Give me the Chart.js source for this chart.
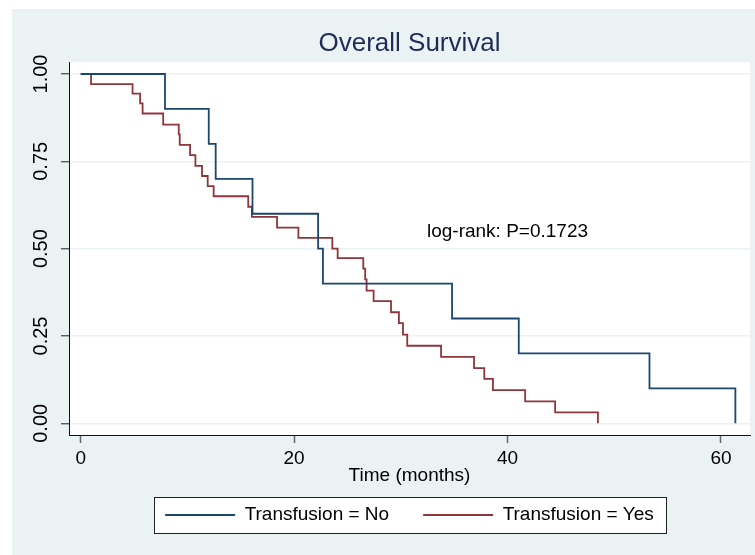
<!DOCTYPE html>
<html>
<head>
<meta charset="utf-8">
<script src="https://cdn.jsdelivr.net/npm/chart.js@4/dist/chart.umd.min.js"></script>
<style>
  html, body { margin: 0; padding: 0; background: #ffffff; }
  #wrap { width: 755px; height: 555px; }
</style>
</head>
<body>
<div id="wrap"><canvas id="c" width="755" height="555"></canvas></div>
<script>
// ---- data ----
const blueTimes = [0, 7.9, 12.0, 12.65, 16.1, 22.25, 22.7, 34.8, 41.05, 53.3, 61.35];
const blueSurv  = [1, 0.9, 0.8, 0.7, 0.6, 0.5, 0.4, 0.3, 0.2, 0.1, 0];

const redTimes = [0, 0.97, 4.86, 5.57, 5.8, 7.73, 9.19, 9.28, 10.25, 10.75,
                  11.37, 11.9, 12.46, 15.7, 16.04, 18.4, 20.4, 23.58, 24.08, 26.48,
                  26.66, 26.79, 27.45, 29.08, 29.82, 30.2, 30.6, 33.77, 36.86, 37.82,
                  38.63, 41.65, 44.46, 48.47];
const redSurv  = [1, 0.971, 0.944, 0.916, 0.887, 0.855, 0.827, 0.797, 0.768, 0.737,
                  0.708, 0.679, 0.650, 0.620, 0.591, 0.560, 0.531, 0.500, 0.473, 0.443,
                  0.412, 0.380, 0.350, 0.318, 0.287, 0.254, 0.222, 0.190, 0.158, 0.127,
                  0.095, 0.063, 0.0315, 0];

const seriesLabels = ['Transfusion = No', 'Transfusion = Yes'];
const xTickValues = [0, 20, 40, 60];
const yTickValues = [0, 0.25, 0.5, 0.75, 1];
const chartTitle = 'Overall Survival';
const xAxisTitle = 'Time (months)';
const annotationText = 'log-rank: P=0.1723';
const annotationX = 32.45;
const annotationY = 0.548;

// ---- styling ----
const FONT = '"Liberation Sans", Arial, Helvetica, sans-serif';
const BLUE = '#1a476f';
const RED = '#90353b';
const PANEL = '#eaf2f3';

const toPts = (ts, ss) => ts.map((t, i) => ({ x: t, y: ss[i] }));

const bgPlugin = {
  id: 'bg',
  beforeDraw(chart) {
    const ctx = chart.ctx;
    const a = chart.chartArea;
    ctx.save();
    ctx.fillStyle = '#ffffff';
    ctx.fillRect(0, 0, chart.width, chart.height);
    ctx.fillStyle = PANEL;
    ctx.fillRect(12, 9, chart.width - 12, chart.height - 9);
    ctx.fillStyle = '#ffffff';
    ctx.fillRect(a.left, a.top, a.right - a.left, a.bottom - a.top);
    // legend frame
    const lg = chart.legend;
    if (lg && lg.lineWidths) {
      const pad = lg.options.labels.padding;
      const fs = lg.options.labels.font.size;
      const startX = (lg.left + pad + lg.right - lg.lineWidths[0]) / 2;
      const span = lg.lineWidths[0] - pad;
      const mid = lg.top + pad + fs / 2;
      const L = Math.round(startX - 11) + 0.5, R = Math.round(startX + span + 12) + 0.5;
      const T = Math.round(mid - 18) + 0.5, B = Math.round(mid + 18) + 0.5;
      ctx.fillStyle = '#ffffff';
      ctx.fillRect(L, T, R - L, B - T);
      ctx.strokeStyle = '#222222';
      ctx.lineWidth = 1;
      ctx.strokeRect(L, T, R - L, B - T);
    }
    ctx.restore();
  },
  afterDatasetsDraw(chart) {
    const ctx = chart.ctx;
    const px = chart.scales.x.getPixelForValue(annotationX);
    const py = chart.scales.y.getPixelForValue(annotationY);
    ctx.save();
    ctx.fillStyle = '#000000';
    ctx.font = '19px ' + FONT;
    ctx.textAlign = 'left';
    ctx.textBaseline = 'middle';
    ctx.fillText(annotationText, px, py);
    ctx.restore();
  }
};

new Chart(document.getElementById('c'), {
  type: 'line',
  data: {
    datasets: [
      { label: seriesLabels[0], data: toPts(blueTimes, blueSurv), borderColor: BLUE, backgroundColor: BLUE,
        borderWidth: 1.8, stepped: 'before', pointRadius: 0, fill: false },
      { label: seriesLabels[1], data: toPts(redTimes, redSurv), borderColor: RED, backgroundColor: RED,
        borderWidth: 1.8, stepped: 'before', pointRadius: 0, fill: false }
    ]
  },
  options: {
    responsive: false,
    animation: false,
    events: [],
    layout: { autoPadding: false, padding: { left: 0, right: 5, top: 0, bottom: 20.5 } },
    plugins: {
      title: {
        display: true, text: chartTitle, color: '#1e2d58', fullSize: false,
        font: { family: FONT, size: 26, weight: 'normal' },
        padding: { top: 28, bottom: 2.8 }
      },
      legend: {
        display: true, position: 'bottom', fullSize: false,
        labels: {
          color: '#000000', boxWidth: 70, boxHeight: 2, padding: 34,
          font: { family: FONT, size: 19 },
          generateLabels: (chart) => chart.data.datasets.map((d, i) => ({
            text: d.label, fillStyle: d.borderColor, strokeStyle: d.borderColor,
            lineWidth: 0, hidden: false, datasetIndex: i, fontColor: '#000000'
          }))
        }
      },
      tooltip: { enabled: false }
    },
    scales: {
      x: {
        type: 'linear', min: -1.096, max: 62.72,
        afterBuildTicks: (s) => { s.ticks = xTickValues.map(v => ({ value: v })); },
        afterFit: (s) => { s.height = 36.5; },
        grid: { display: true, drawOnChartArea: false, tickLength: 8, tickColor: '#666666', tickWidth: 1.5 },
        border: { display: true, color: '#111111', width: 1 },
        ticks: { color: '#000000', padding: 4, font: { family: FONT, size: 19 }, maxRotation: 0, autoSkip: false },
        title: { display: true, text: xAxisTitle, color: '#000000', font: { family: FONT, size: 19 },
                 padding: { top: 0, bottom: -15.4 } }
      },
      y: {
        type: 'linear', min: -0.0335, max: 1.0344,
        afterBuildTicks: (s) => { s.ticks = yTickValues.map(v => ({ value: v })); },
        afterFit: (s) => { s.width = 69; },
        grid: { display: true, drawOnChartArea: true, color: PANEL, lineWidth: 1.5, tickLength: 8, tickColor: '#444444', tickWidth: 1.2 },
        border: { display: true, color: '#111111', width: 1 },
        ticks: { color: '#000000', padding: 0, minRotation: 90, maxRotation: 90, crossAlign: 'center',
                 font: { family: FONT, size: 20 }, autoSkip: false,
                 callback: (v) => Number(v).toFixed(2) }
      }
    }
  },
  plugins: [bgPlugin]
});
</script>
</body>
</html>
